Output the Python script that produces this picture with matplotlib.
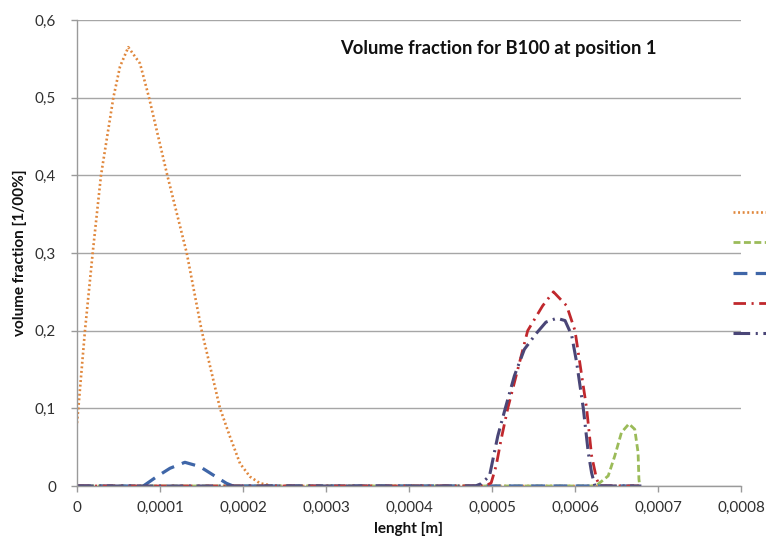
import matplotlib
matplotlib.use("Agg")
import matplotlib.pyplot as plt
from matplotlib.ticker import FixedLocator, FuncFormatter

plt.rcParams['font.family'] = ['Lato', 'DejaVu Sans']
plt.rcParams['lines.scale_dashes'] = False

# ---- data ----
x_orange = [0, 0.0000016, 0.0000096, 0.0000189, 0.0000289, 0.0000438, 0.0000518, 0.0000618,
            0.0000759, 0.0000868, 0.0001088, 0.0001322, 0.0001502, 0.0001723, 0.0001843,
            0.0001964, 0.0002084, 0.0002205, 0.0002325, 0.00024, 0.00068]
y_orange = [0.081, 0.1, 0.2, 0.3, 0.4, 0.5, 0.54, 0.565,
            0.544, 0.5, 0.4, 0.3, 0.2, 0.1, 0.0635,
            0.029, 0.012, 0.0035, 0.001, 0.0, 0.0]

x_green = [0, 0.000625, 0.000632, 0.00064, 0.000648, 0.000656, 0.000665, 0.000672, 0.000676, 0.000677, 0.000678]
y_green = [0, 0.0, 0.006, 0.013, 0.039, 0.069, 0.080, 0.073, 0.043, 0.009, 0.0]

x_blue = [0, 0.0000799, 0.000096, 0.000112, 0.00013, 0.000148, 0.000164, 0.00018, 0.000188, 0.00068]
y_blue = [0, 0.0, 0.012, 0.0228, 0.0305, 0.025, 0.0142, 0.0035, 0.0, 0.0]

x_red = [0, 0.000492, 0.000499, 0.000505, 0.000511, 0.000519, 0.000543, 0.000561, 0.000574,
         0.00059, 0.0006, 0.000614, 0.00062, 0.000626, 0.00063, 0.00068]
y_red = [0, 0.0, 0.004, 0.026, 0.06, 0.1, 0.2, 0.232, 0.25,
         0.232, 0.2, 0.1, 0.039, 0.009, 0.0, 0.0]

x_dark = [0, 0.00048, 0.000487, 0.000497, 0.000507, 0.000516, 0.000527, 0.000539, 0.000553,
          0.000565, 0.000578, 0.000588, 0.000596, 0.000602, 0.00061, 0.000616, 0.00062,
          0.000624, 0.00068]
y_dark = [0, 0.0, 0.003, 0.013, 0.0645, 0.1, 0.142, 0.176, 0.196,
          0.211, 0.216, 0.213, 0.194, 0.159, 0.1, 0.043, 0.017,
          0.0, 0.0]

y_ticks = [0, 0.1, 0.2, 0.3, 0.4, 0.5, 0.6]
x_ticks = [0, 0.0001, 0.0002, 0.0003, 0.0004, 0.0005, 0.0006, 0.0007, 0.0008]
title = "Volume fraction for B100 at position 1"
xlabel = "lenght [m]"
ylabel = "volume fraction [1/00%]"

# ---- figure ----
fig = plt.figure(figsize=(7.66, 5.38), dpi=100)
ax = fig.add_axes([77/766, 1-486/538, 664/766, 466/538])

l1, = ax.plot(x_orange, y_orange, color="#E0873C", lw=1.9, dashes=(1.4, 1.9))
l2, = ax.plot(x_green, y_green, color="#9BBB59", lw=2.0, dashes=(5, 2.5))
l3, = ax.plot(x_blue, y_blue, color="#3F66A8", lw=2.3, dashes=(10, 6))
l4, = ax.plot(x_red, y_red, color="#C0282D", lw=2.0, dashes=(9, 4, 1.5, 4))
l5, = ax.plot(x_dark, y_dark, color="#4A4677", lw=2.2, dashes=(12, 4, 1.5, 4))
lines = [l1, l2, l3, l4, l5]

ax.set_xlim(0, 0.0008)
ax.set_ylim(0, 0.6)
ax.yaxis.set_major_locator(FixedLocator(y_ticks))
ax.xaxis.set_major_locator(FixedLocator(x_ticks))

def comma_fmt(v, pos):
    if abs(v) < 1e-12:
        return "0"
    s = ("%.4f" % v).rstrip("0").rstrip(".")
    return s.replace(".", ",")

ax.xaxis.set_major_formatter(FuncFormatter(comma_fmt))
ax.yaxis.set_major_formatter(FuncFormatter(comma_fmt))

ax.grid(axis='y', color="#A6A6A6", lw=1.0)
ax.set_axisbelow(True)
for s in ['top', 'right']:
    ax.spines[s].set_visible(False)
for s in ['left', 'bottom']:
    ax.spines[s].set_color("#9A9A9A")
    ax.spines[s].set_linewidth(1.0)

ax.tick_params(axis='both', colors="#9A9A9A", labelcolor="#303030", labelsize=11, length=4, width=1)
ax.tick_params(axis='y', pad=11)
ax.tick_params(axis='x', pad=7)

ax.text(0.634, 0.938, title, transform=ax.transAxes, ha='center', va='center',
        fontsize=13.2, fontweight='bold', color="#111111")
ax.set_xlabel(xlabel, fontsize=11, fontweight='bold', color="#111111", labelpad=5)
ax.set_ylabel(ylabel, fontsize=11, fontweight='bold', color="#111111", labelpad=6)

leg = fig.legend(lines, [" "] * 5, loc='center left', bbox_to_anchor=(733/766, 1 - 274/538),
                 frameon=False, borderpad=0, borderaxespad=0, handlelength=4,
                 handletextpad=0.2, labelspacing=1.07, fontsize=11)

fig.savefig("out.png", dpi=100)
